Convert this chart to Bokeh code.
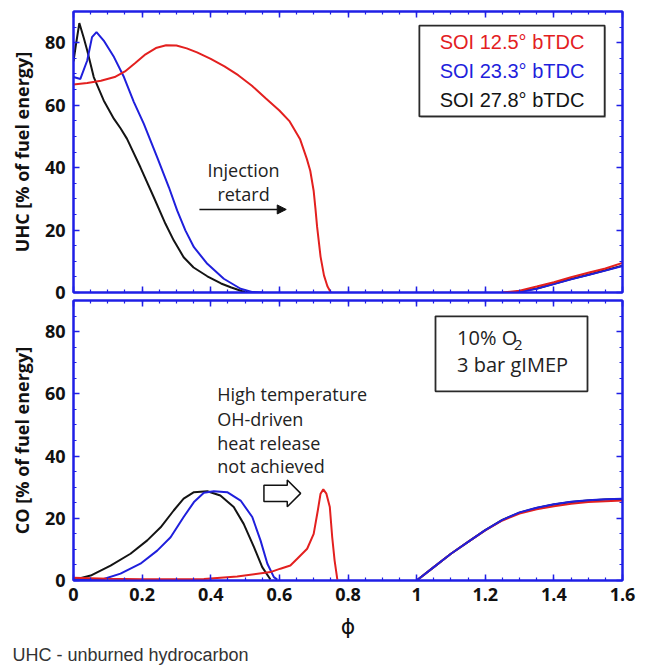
from bokeh.plotting import figure
from bokeh.models import (SingleIntervalTicker, LinearAxis, Range1d, BoxAnnotation,
                          Label, Arrow, NormalHead, CustomJSTickFormatter, Title)
from bokeh.layouts import column
from bokeh.embed import file_html
from bokeh.resources import INLINE

# ---------------- data ----------------
series_names = ["SOI 12.5° bTDC", "SOI 23.3° bTDC", "SOI 27.8° bTDC"]

# UHC panel, lean branch
uhc_125_x = [0, 0.04, 0.08, 0.12, 0.15, 0.18, 0.21, 0.24, 0.27, 0.30, 0.33, 0.36, 0.40,
             0.44, 0.48, 0.52, 0.56, 0.60, 0.63, 0.66, 0.68, 0.69, 0.70, 0.705, 0.71,
             0.72, 0.73, 0.74, 0.75]
uhc_125_y = [66.6, 67.1, 67.8, 69.0, 70.8, 73.5, 76.3, 78.3, 79.2, 79.1, 78.2, 76.9, 74.8,
             72.4, 69.6, 66.2, 62.2, 58.3, 54.8, 49.2, 42.8, 39.0, 32.5, 27.0, 21.0,
             11.5, 5.5, 2.0, 0.0]
uhc_233_x = [0, 0.02, 0.04, 0.054, 0.067, 0.088, 0.118, 0.147, 0.176, 0.205, 0.244, 0.278, 0.302,
             0.326, 0.351, 0.39, 0.438, 0.487, 0.52, 0.55]
uhc_233_y = [69.0, 68.4, 74.3, 81.8, 83.4, 80.7, 75.4, 69.0, 61.0, 54.0, 43.3, 33.7, 26.3,
             19.9, 14.5, 9.2, 4.4, 1.2, 0.2, 0.0]
uhc_278_x = [0, 0.008, 0.017, 0.03, 0.04, 0.059, 0.088, 0.118, 0.137, 0.156, 0.195, 0.234, 0.268,
             0.292, 0.321, 0.35, 0.39, 0.43, 0.46, 0.49, 0.51]
uhc_278_y = [74.0, 80.0, 86.3, 81.5, 77.5, 69.0, 61.5, 55.6, 52.6, 49.2, 40.1, 30.5, 22.0,
             16.7, 11.3, 8.0, 5.2, 2.9, 1.6, 0.5, 0.0]
# UHC panel, rich branch
uhc_125_rx = [1.25, 1.30, 1.35, 1.40, 1.45, 1.50, 1.55, 1.60]
uhc_125_ry = [0.0, 0.6, 1.9, 3.3, 4.9, 6.3, 7.7, 9.5]
uhc_233_rx = [1.29, 1.35, 1.40, 1.45, 1.50, 1.55, 1.60]
uhc_233_ry = [0.0, 1.2, 2.7, 4.2, 5.6, 7.0, 8.5]
uhc_278_rx = [1.28, 1.35, 1.40, 1.45, 1.50, 1.55, 1.60]
uhc_278_ry = [0.0, 1.3, 2.8, 4.3, 5.7, 7.1, 8.6]

# CO panel, lean branch
co_125_x = [0, 0.1, 0.2, 0.3, 0.38, 0.477, 0.574, 0.603, 0.632, 0.652, 0.681, 0.70, 0.712,
            0.72, 0.728, 0.737, 0.747, 0.754, 0.761, 0.769]
co_125_y = [0.9, 0.6, 0.4, 0.4, 0.5, 1.3, 2.7, 3.8, 4.8, 7.0, 10.2, 15.0, 22.5,
            27.9, 29.3, 27.9, 23.6, 13.9, 6.4, 0.3]
co_233_x = [0, 0.088, 0.137, 0.195, 0.244, 0.283, 0.321, 0.351, 0.38, 0.409, 0.448, 0.487,
            0.521, 0.545, 0.565, 0.584, 0.594]
co_233_y = [0.3, 0.5, 2.2, 5.4, 9.6, 13.9, 20.4, 25.2, 28.2, 28.7, 28.4, 25.7,
            20.4, 12.9, 5.4, 1.1, 0.3]
co_278_x = [0, 0.011, 0.05, 0.108, 0.166, 0.215, 0.254, 0.292, 0.321, 0.351, 0.39, 0.428,
            0.467, 0.496, 0.526, 0.55, 0.574]
co_278_y = [0.3, 0.5, 1.6, 4.8, 8.6, 12.9, 17.1, 22.5, 26.3, 28.4, 28.7, 27.3,
            23.6, 18.2, 10.7, 4.3, 0.3]
# CO panel, rich branch
co_rx = [1.0, 1.05, 1.1, 1.15, 1.2, 1.25, 1.3, 1.35, 1.4, 1.45, 1.5, 1.55, 1.6]
co_125_ry = [0.0, 4.3, 8.6, 12.4, 16.1, 19.3, 21.5, 22.9, 23.9, 24.7, 25.2, 25.5, 25.7]
co_233_ry = [0.0, 4.3, 8.6, 12.4, 16.2, 19.5, 21.9, 23.4, 24.5, 25.3, 25.8, 26.1, 26.3]
co_278_ry = [0.0, 4.3, 8.6, 12.4, 16.2, 19.5, 21.8, 23.3, 24.4, 25.2, 25.7, 26.0, 26.2]

# ---------------- styling ----------------
FRAME = "#1f1fe6"
RED, BLUE, BLACK = "#e3201f", "#1f1fdc", "#141414"
TICK_FONT = "Open Sans"
NOTE_FONT = "Open Sans"
W = 646


def add_axes(p, x_labels, y_label):
    specs = [("below", "x"), ("above", "x"), ("left", "y"), ("right", "y")]
    for side, dim in specs:
        if dim == "x":
            tk = SingleIntervalTicker(interval=0.2, num_minor_ticks=4)
        else:
            tk = SingleIntervalTicker(interval=20, num_minor_ticks=4)
        ax = LinearAxis(ticker=tk)
        ax.axis_line_color = FRAME
        ax.axis_line_width = 2
        ax.major_tick_line_color = FRAME
        ax.minor_tick_line_color = FRAME
        ax.major_tick_line_width = 1.5
        ax.minor_tick_line_width = 1.2
        ax.major_tick_in = 6
        ax.major_tick_out = 0
        ax.minor_tick_in = 3
        ax.minor_tick_out = 0
        show = (side == "below" and x_labels) or side == "left"
        if show:
            ax.major_label_text_font = TICK_FONT
            ax.major_label_text_font_style = "bold"
            ax.major_label_text_font_size = "18px"
            ax.major_label_text_color = "#111111"
            if dim == "x":
                ax.major_label_standoff = 7
                ax.formatter = CustomJSTickFormatter(
                    code="return tick.toFixed(1).replace(/\\.0$/, '');")
                ax.axis_label = "ϕ"
                ax.axis_label_text_font = "DejaVu Sans"
                ax.axis_label_text_font_style = "normal"
                ax.axis_label_text_font_size = "22px"
                ax.axis_label_text_color = "#111111"
                ax.axis_label_standoff = 10
            else:
                ax.major_label_standoff = 8
                ax.formatter = CustomJSTickFormatter(code="return tick.toFixed(0);")
                ax.axis_label = y_label
                ax.axis_label_text_font = TICK_FONT
                ax.axis_label_text_font_style = "bold"
                ax.axis_label_text_font_size = "18px"
                ax.axis_label_text_color = "#111111"
                ax.axis_label_standoff = 8
        else:
            ax.formatter = CustomJSTickFormatter(code="return '';")
            ax.major_label_text_font_size = "0px"
            ax.major_label_standoff = 0
        p.add_layout(ax, side)


def make_fig(height, top, bottom):
    p = figure(width=W, height=height, x_range=Range1d(0, 1.6), y_range=Range1d(0, 90),
               output_backend="svg", toolbar_location=None,
               x_axis_location=None, y_axis_location=None,
               min_border_left=73, min_border_right=24,
               min_border_top=top, min_border_bottom=bottom)
    p.grid.grid_line_color = None
    p.outline_line_color = FRAME
    p.outline_line_width = 2
    p.background_fill_color = "white"
    p.border_fill_color = "white"
    return p


# ---------------- top panel: UHC ----------------
# extra bottom room so the "0" tick label is not clipped; the CO panel is pulled up over it
p1 = make_fig(311, 11, 19)
add_axes(p1, False, "UHC [% of fuel energy]")
for xs, ys, c in [(uhc_278_x, uhc_278_y, BLACK), (uhc_233_x, uhc_233_y, BLUE),
                  (uhc_125_x, uhc_125_y, RED),
                  (uhc_278_rx, uhc_278_ry, BLACK), (uhc_233_rx, uhc_233_ry, BLUE),
                  (uhc_125_rx, uhc_125_ry, RED)]:
    p1.line(xs, ys, line_color=c, line_width=2)

# legend box
p1.add_layout(BoxAnnotation(left=1.012, right=1.552, bottom=55.9, top=85.0,
                            fill_color="#b0b0b0", fill_alpha=0.7, line_color=None,
                            level="overlay"))
p1.add_layout(BoxAnnotation(left=1.008, right=1.548, bottom=56.4, top=85.5,
                            fill_color="white", fill_alpha=1.0, line_color="#2a2a2a",
                            line_alpha=1.0, line_width=1.8, level="overlay"))
for name, c, yy in zip(series_names, [RED, BLUE, BLACK], [80.2, 70.9, 61.5]):
    p1.add_layout(Label(x=1.278, y=yy, text=name, text_color=c, text_font="Liberation Sans",
                        text_font_size="20px", text_align="center", text_baseline="middle",
                        level="overlay"))

p1.add_layout(Label(x=0.4955, y=39.1, text="Injection", text_font=NOTE_FONT,
                    text_font_size="18px", text_color="#222222", text_align="center",
                    text_baseline="middle"))
p1.add_layout(Label(x=0.4955, y=31.7, text="retard", text_font=NOTE_FONT,
                    text_font_size="18px", text_color="#222222", text_align="center",
                    text_baseline="middle"))
p1.add_layout(Arrow(x_start=0.367, y_start=26.6, x_end=0.62, y_end=26.6, line_width=1.5,
                    line_color="#111111",
                    end=NormalHead(size=9, fill_color="#111111", line_color="#111111")))

# ---------------- bottom panel: CO ----------------
p2 = make_fig(367, 1, 86)
p2.border_fill_alpha = 0
p2.margin = (-12, 0, 0, 0)
add_axes(p2, True, "CO [% of fuel energy]")
for xs, ys, c in [(co_278_x, co_278_y, BLACK), (co_233_x, co_233_y, BLUE),
                  (co_125_x, co_125_y, RED),
                  (co_rx, co_278_ry, BLACK), (co_rx, co_125_ry, RED),
                  (co_rx, co_233_ry, BLUE)]:
    p2.line(xs, ys, line_color=c, line_width=2)

p2.add_layout(BoxAnnotation(left=1.055, right=1.498, bottom=60.8, top=84.9,
                            fill_color="white", fill_alpha=1.0, line_color="#2a2a2a",
                            line_alpha=1.0, line_width=1.8, level="overlay"))
p2.add_layout(Label(x=1.118, y=78.2, text="10% O", text_font=NOTE_FONT, text_font_size="20px",
                    text_color="#222222", text_align="left", text_baseline="middle",
                    level="overlay"))
p2.add_layout(Label(x=1.284, y=75.6, text="2", text_font=NOTE_FONT, text_font_size="15px",
                    text_color="#222222", text_align="left", text_baseline="middle",
                    level="overlay"))
p2.add_layout(Label(x=1.118, y=69.4, text="3 bar gIMEP", text_font=NOTE_FONT,
                    text_font_size="20px", text_color="#222222", text_align="left",
                    text_baseline="middle", level="overlay"))

notes = ["High temperature", "OH-driven", "heat release", "not achieved"]
for t, yy in zip(notes, [60.0, 52.0, 44.3, 36.8]):
    p2.add_layout(Label(x=0.419, y=yy, text=t, text_font=NOTE_FONT, text_font_size="18px",
                        text_color="#222222", text_align="left", text_baseline="middle"))

# hollow block arrow
ax0, axh, axt, ayc, ahs, ahh = 0.555, 0.623, 0.662, 28.0, 2.6, 4.3
p2.patch([ax0, axh, axh, axt, axh, axh, ax0],
         [ayc - ahs, ayc - ahs, ayc - ahh, ayc, ayc + ahh, ayc + ahs, ayc + ahs],
         fill_color="white", line_color="#111111", line_width=1.5)

# caption below the axis
p2.add_layout(Title(text="UHC - unburned hydrocarbon", align="left", offset=-61,
                    text_font="Liberation Sans", text_font_size="18px",
                    text_font_style="normal", text_color="#333333", standoff=2), "below")

layout = column(p1, p2, spacing=0)
open("out.html", "w").write(file_html(layout, INLINE))
